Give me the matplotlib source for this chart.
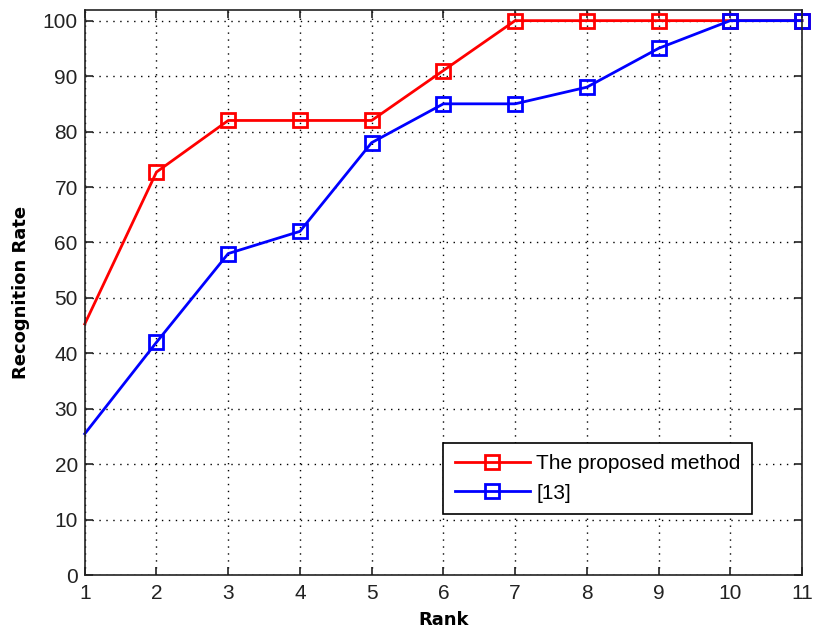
import matplotlib
matplotlib.use("Agg")
import matplotlib.pyplot as plt

plt.rcParams['font.family'] = ['Liberation Sans', 'DejaVu Sans']

# data
rank = [1, 2, 3, 4, 5, 6, 7, 8, 9, 10, 11]
proposed = [45.3, 72.7, 82, 82, 82, 91, 100, 100, 100, 100, 100]
ref13 = [25.5, 42, 58, 62, 78, 85, 85, 88, 95, 100, 100]
x_ticks = list(range(1, 12))
y_ticks = list(range(0, 101, 10))

fig = plt.figure(figsize=(8.15, 6.37), dpi=100)
ax = fig.add_axes([0.104, 0.097, 0.880, 0.888])

ax.plot(rank, proposed, color='red', lw=2, marker='s', ms=10, mfc='none',
        mec='red', mew=2, markevery=slice(1, None), clip_on=False,
        label='The proposed method')
ax.plot(rank, ref13, color='blue', lw=2, marker='s', ms=10, mfc='none',
        mec='blue', mew=2, markevery=slice(1, None), clip_on=False,
        label='[13]')

ax.set_xlim(1, 11)
ax.set_ylim(0, 102)
ax.set_xticks(x_ticks)
ax.set_yticks(y_ticks)
ax.tick_params(direction='in', top=True, right=True, length=6, width=1.2,
               colors='#222222')
ax.tick_params(axis='x', pad=6)
ax.tick_params(axis='y', pad=5)
for lab in ax.get_xticklabels() + ax.get_yticklabels():
    lab.set_family(['Liberation Sans Narrow', 'Liberation Sans'])
    lab.set_fontsize(15)
for s in ax.spines.values():
    s.set_linewidth(1.2)
    s.set_color('#222222')
ax.grid(True, color='black', linestyle=(0, (1, 4)), linewidth=1)

ax.set_xlabel('Rank', fontsize=13, fontweight='bold', family='DejaVu Sans',
              labelpad=6)
ax.set_ylabel('Recognition Rate', fontsize=13, fontweight='bold',
              family='DejaVu Sans', labelpad=9)

leg = ax.legend(loc='lower left', bbox_to_anchor=(0.50, 0.108), fontsize=15,
                fancybox=False, framealpha=1, edgecolor='black',
                handlelength=3.6, borderpad=0.55, labelspacing=0.5,
                handletextpad=0.3, borderaxespad=0)
leg.get_frame().set_linewidth(1.2)

fig.savefig('out.png', dpi=100)
